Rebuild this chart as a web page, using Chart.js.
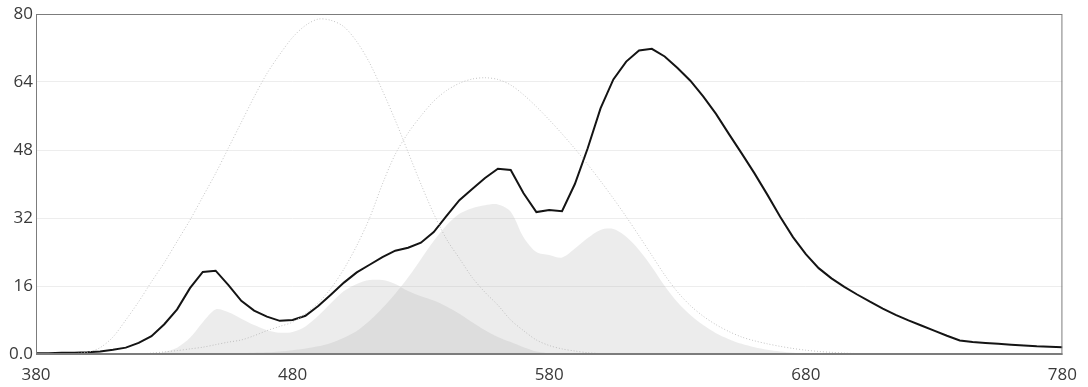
<!DOCTYPE html>
<html>
<head>
<meta charset="utf-8">
<script src="https://cdn.jsdelivr.net/npm/chart.js@4.4.1/dist/chart.umd.min.js"></script>
<style>
  html, body { margin: 0; padding: 0; background: #fff; }
  #wrap { width: 1088px; height: 387px; }
</style>
</head>
<body>
<div id="wrap"><canvas id="grafico" width="1088" height="387"></canvas></div>
<script>
// wavelength grid, 5 nm steps
const comprimentos = [];
for (let nm = 380; nm <= 780; nm += 5) comprimentos.push(nm);

const xTicks = [380, 480, 580, 680, 780];
const yTicks = [0, 16, 32, 48, 64, 80];

// black spectrum line
const espectro = [
  0.2, 0.2, 0.3, 0.3, 0.4, 0.6, 1.0, 1.5, 2.6, 4.2,
  7.0, 10.5, 15.5, 19.3, 19.6, 16.2, 12.5, 10.2, 8.8, 7.8,
  8.0, 9.0, 11.3, 14.0, 16.8, 19.2, 21.0, 22.8, 24.3, 25.0,
  26.2, 28.7, 32.5, 36.2, 38.8, 41.4, 43.6, 43.3, 37.8, 33.4,
  33.9, 33.6, 40.0, 48.4, 57.8, 64.6, 68.8, 71.4, 71.8, 70.0,
  67.3, 64.3, 60.6, 56.5, 51.8, 47.2, 42.5, 37.5, 32.3, 27.5,
  23.5, 20.2, 17.8, 15.8, 14.0, 12.3, 10.7, 9.2, 7.9, 6.7,
  5.5, 4.3, 3.2, 2.8, 2.6, 2.4, 2.2, 2.0, 1.8, 1.7,
  1.6
];

// dotted curve peaking near 490 nm
const curvaAzul = [
  0, 0, 0, 0.1, 0.4, 1.5, 4, 8, 12.3, 17,
  21.5, 26.5, 31.5, 37, 42.5, 48.5, 54.5, 60.5, 66, 70.5,
  74.5, 77.3, 78.8, 78.5, 77, 73.5, 68.5, 62, 55, 47.5,
  40, 33, 27, 22.5, 18, 14.5, 11.5, 8, 5.5, 3.3,
  2.0, 1.2, 0.7, 0.3, 0.1, 0, 0, 0, 0, 0,
  0, 0, 0, 0, 0, 0, 0, 0, 0, 0,
  0, 0, 0, 0, 0, 0, 0, 0, 0, 0,
  0, 0, 0, 0, 0, 0, 0, 0, 0, 0,
  0
];

// dotted curve peaking near 555 nm
const curvaVerde = [
  0, 0, 0, 0, 0, 0, 0, 0, 0, 0.2,
  0.5, 0.8, 1.2, 1.6, 2.2, 2.8, 3.3, 4.3, 5.5, 6.5,
  7.5, 9.5, 12, 15.5, 20, 25.5, 32, 40, 47, 52,
  56, 59.5, 62, 63.7, 64.7, 65, 64.6, 63.3, 61.0, 58.2,
  55.1, 51.8, 48.3, 44.6, 40.7, 36.6, 32.3, 27.8, 23.2, 18.6,
  14.6, 11.4, 8.9, 6.9, 5.3, 4.0, 3.1, 2.4, 1.8, 1.3,
  0.9, 0.6, 0.4, 0.2, 0.1, 0, 0, 0, 0, 0,
  0, 0, 0, 0, 0, 0, 0, 0, 0, 0,
  0
];

// shaded areas
const areaAzul = [
  0, 0, 0, 0, 0, 0, 0, 0, 0, 0,
  0.5, 1.5, 3.8, 7.5, 10.5, 9.8, 8.3, 6.8, 5.6, 5.0,
  5.2, 6.5, 9.0, 12, 14.8, 16.5, 17.4, 17.4, 16.5, 14.8,
  13.6, 12.6, 11.2, 9.5, 7.5, 5.6, 4.0, 2.8, 1.6, 0.6,
  0.2, 0, 0, 0, 0, 0, 0, 0, 0, 0,
  0, 0, 0, 0, 0, 0, 0, 0, 0, 0,
  0, 0, 0, 0, 0, 0, 0, 0, 0, 0,
  0, 0, 0, 0, 0, 0, 0, 0, 0, 0,
  0
];

const areaVerde = [
  0, 0, 0, 0, 0, 0, 0, 0, 0, 0,
  0, 0, 0, 0, 0, 0, 0.2, 0.3, 0.4, 0.6,
  0.9, 1.3, 1.8, 2.6, 3.8, 5.4, 7.8, 10.8, 14.2, 18,
  22.3, 26.6, 30.3, 33, 34.3, 35, 35.2, 33.5, 27.5, 24,
  23.3, 22.7, 24.8, 27.3, 29.2, 29.4, 27.6, 24.5, 20.5, 16,
  12.2, 9.2, 6.8, 4.9, 3.5, 2.4, 1.6, 1.0, 0.6, 0.3,
  0.1, 0, 0, 0, 0, 0, 0, 0, 0, 0,
  0, 0, 0, 0, 0, 0, 0, 0, 0, 0,
  0
];

function pontos(valores) {
  return comprimentos.map((nm, i) => ({ x: nm, y: valores[i] }));
}

const moldura = {
  id: 'moldura',
  afterDraw(chart) {
    const { ctx, chartArea: a } = chart;
    ctx.save();
    ctx.strokeStyle = '#7c7c7c';
    ctx.lineWidth = 1;
    ctx.strokeRect(a.left + 0.5, a.top + 0.5, a.right - a.left - 1, a.bottom - a.top);
    ctx.lineWidth = 2;
    ctx.beginPath();
    ctx.moveTo(a.left, a.bottom);
    ctx.lineTo(a.right, a.bottom);
    ctx.stroke();
    ctx.restore();
  }
};

const fonte = { family: '"Open Sans", sans-serif', size: 17 };

new Chart(document.getElementById('grafico'), {
  type: 'line',
  data: {
    datasets: [
      {
        data: pontos(areaAzul),
        borderWidth: 0,
        borderColor: 'rgba(0,0,0,0)',
        backgroundColor: 'rgba(170,170,170,0.22)',
        fill: 'origin',
        pointRadius: 0,
        tension: 0.3
      },
      {
        data: pontos(areaVerde),
        borderWidth: 0,
        borderColor: 'rgba(0,0,0,0)',
        backgroundColor: 'rgba(170,170,170,0.22)',
        fill: 'origin',
        pointRadius: 0,
        tension: 0.3
      },
      {
        data: pontos(curvaAzul),
        borderColor: '#c4c4c4',
        borderWidth: 1,
        borderDash: [1, 2],
        fill: false,
        pointRadius: 0,
        tension: 0.3
      },
      {
        data: pontos(curvaVerde),
        borderColor: '#c4c4c4',
        borderWidth: 1,
        borderDash: [1, 2],
        fill: false,
        pointRadius: 0,
        tension: 0.3
      },
      {
        data: pontos(espectro),
        borderColor: '#141414',
        borderWidth: 2,
        fill: false,
        pointRadius: 0,
        tension: 0
      }
    ]
  },
  options: {
    responsive: false,
    animation: false,
    layout: { padding: { left: 0, top: 14, right: 25, bottom: 0 } },
    plugins: { legend: { display: false }, tooltip: { enabled: false } },
    scales: {
      x: {
        type: 'linear',
        min: 380,
        max: 780,
        afterBuildTicks: scale => { scale.ticks = xTicks.map(v => ({ value: v })); },
        afterFit: scale => { scale.height = 33; },
        ticks: { color: '#3a3a3a', font: fonte, padding: 11, maxRotation: 0 },
        grid: { display: false, drawTicks: false },
        border: { display: false }
      },
      y: {
        min: 0,
        max: 80,
        afterBuildTicks: scale => { scale.ticks = yTicks.map(v => ({ value: v })); },
        afterFit: scale => { scale.width = 36; },
        ticks: {
          color: '#3a3a3a',
          font: fonte,
          padding: 3,
          callback: v => (v === 0 ? '0.0' : v)
        },
        grid: { color: '#ededed', drawTicks: false },
        border: { display: false }
      }
    }
  },
  plugins: [moldura]
});
</script>
</body>
</html>
